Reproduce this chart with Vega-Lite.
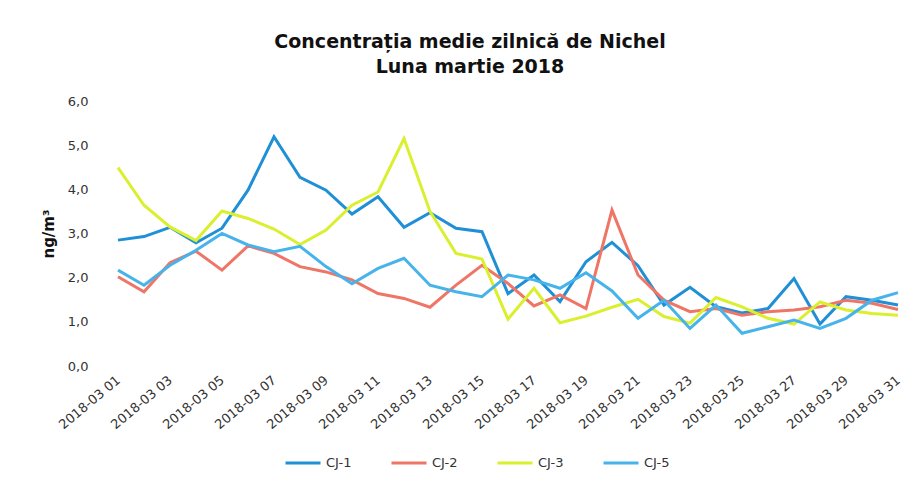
{
  "$schema": "https://vega.github.io/schema/vega-lite/v6.json",
  "width": 806,
  "height": 265,
  "autosize": {"type": "none"},
  "padding": {"left": 105, "top": 101, "right": 7, "bottom": 118},
  "background": "white",
  "config": {"view": {"stroke": null}, "font": "DejaVu Sans"},
  "title": {
    "text": ["Concentrația medie zilnică de Nichel", "Luna martie 2018"],
    "fontSize": 19,
    "fontWeight": "bold",
    "font": "DejaVu Sans",
    "color": "#111111",
    "anchor": "middle",
    "frame": "group",
    "dx": -38,
    "offset": 18,
    "lineHeight": 25
  },
  "data": {
    "values": [
      {"date": "2018-03-01", "CJ-1": 2.85, "CJ-2": 2.02, "CJ-3": 4.49, "CJ-5": 2.17},
      {"date": "2018-03-02", "CJ-1": 2.93, "CJ-2": 1.68, "CJ-3": 3.64, "CJ-5": 1.83},
      {"date": "2018-03-03", "CJ-1": 3.14, "CJ-2": 2.34, "CJ-3": 3.15, "CJ-5": 2.28},
      {"date": "2018-03-04", "CJ-1": 2.79, "CJ-2": 2.6, "CJ-3": 2.84, "CJ-5": 2.62},
      {"date": "2018-03-05", "CJ-1": 3.12, "CJ-2": 2.17, "CJ-3": 3.51, "CJ-5": 3.0},
      {"date": "2018-03-06", "CJ-1": 3.98, "CJ-2": 2.72, "CJ-3": 3.34, "CJ-5": 2.74},
      {"date": "2018-03-07", "CJ-1": 5.19, "CJ-2": 2.55, "CJ-3": 3.1, "CJ-5": 2.59},
      {"date": "2018-03-08", "CJ-1": 4.27, "CJ-2": 2.25, "CJ-3": 2.75, "CJ-5": 2.71},
      {"date": "2018-03-09", "CJ-1": 3.98, "CJ-2": 2.13, "CJ-3": 3.08, "CJ-5": 2.25},
      {"date": "2018-03-10", "CJ-1": 3.44, "CJ-2": 1.95, "CJ-3": 3.64, "CJ-5": 1.86},
      {"date": "2018-03-11", "CJ-1": 3.83, "CJ-2": 1.64, "CJ-3": 3.94, "CJ-5": 2.21},
      {"date": "2018-03-12", "CJ-1": 3.14, "CJ-2": 1.53, "CJ-3": 5.15, "CJ-5": 2.44},
      {"date": "2018-03-13", "CJ-1": 3.47, "CJ-2": 1.33, "CJ-3": 3.5, "CJ-5": 1.83},
      {"date": "2018-03-14", "CJ-1": 3.12, "CJ-2": 1.83, "CJ-3": 2.55, "CJ-5": 1.68},
      {"date": "2018-03-15", "CJ-1": 3.04, "CJ-2": 2.28, "CJ-3": 2.42, "CJ-5": 1.57},
      {"date": "2018-03-16", "CJ-1": 1.64, "CJ-2": 1.87, "CJ-3": 1.06, "CJ-5": 2.06},
      {"date": "2018-03-17", "CJ-1": 2.06, "CJ-2": 1.36, "CJ-3": 1.76, "CJ-5": 1.95},
      {"date": "2018-03-18", "CJ-1": 1.46, "CJ-2": 1.61, "CJ-3": 0.98, "CJ-5": 1.76},
      {"date": "2018-03-19", "CJ-1": 2.36, "CJ-2": 1.3, "CJ-3": 1.13, "CJ-5": 2.11},
      {"date": "2018-03-20", "CJ-1": 2.8, "CJ-2": 3.53, "CJ-3": 1.33, "CJ-5": 1.7},
      {"date": "2018-03-21", "CJ-1": 2.27, "CJ-2": 2.06, "CJ-3": 1.51, "CJ-5": 1.08},
      {"date": "2018-03-22", "CJ-1": 1.38, "CJ-2": 1.49, "CJ-3": 1.12, "CJ-5": 1.49},
      {"date": "2018-03-23", "CJ-1": 1.78, "CJ-2": 1.23, "CJ-3": 0.97, "CJ-5": 0.85},
      {"date": "2018-03-24", "CJ-1": 1.34, "CJ-2": 1.3, "CJ-3": 1.55, "CJ-5": 1.38},
      {"date": "2018-03-25", "CJ-1": 1.2, "CJ-2": 1.15, "CJ-3": 1.34, "CJ-5": 0.74},
      {"date": "2018-03-26", "CJ-1": 1.3, "CJ-2": 1.23, "CJ-3": 1.08, "CJ-5": 0.89},
      {"date": "2018-03-27", "CJ-1": 1.98, "CJ-2": 1.27, "CJ-3": 0.95, "CJ-5": 1.04},
      {"date": "2018-03-28", "CJ-1": 0.95, "CJ-2": 1.34, "CJ-3": 1.45, "CJ-5": 0.85},
      {"date": "2018-03-29", "CJ-1": 1.57, "CJ-2": 1.49, "CJ-3": 1.27, "CJ-5": 1.08},
      {"date": "2018-03-30", "CJ-1": 1.49, "CJ-2": 1.42, "CJ-3": 1.19, "CJ-5": 1.49},
      {"date": "2018-03-31", "CJ-1": 1.38, "CJ-2": 1.28, "CJ-3": 1.15, "CJ-5": 1.66}
    ]
  },
  "transform": [{"fold": ["CJ-1", "CJ-2", "CJ-3", "CJ-5"], "as": ["station", "value"]}],
  "mark": {"type": "line", "strokeWidth": 3},
  "encoding": {
    "x": {
      "field": "date",
      "type": "ordinal",
      "scale": {"type": "point", "padding": 0.5},
      "axis": {
        "title": null,
        "values": ["2018-03-01", "2018-03-03", "2018-03-05", "2018-03-07", "2018-03-09", "2018-03-11", "2018-03-13", "2018-03-15", "2018-03-17", "2018-03-19", "2018-03-21", "2018-03-23", "2018-03-25", "2018-03-27", "2018-03-29", "2018-03-31"],
        "labelExpr": "slice(datum.value, 0, 7) + ' ' + slice(datum.value, 8)",
        "labelAngle": -40,
        "labelAlign": "right",
        "labelBaseline": "middle",
        "labelFont": "DejaVu Sans",
        "labelFontSize": 13,
        "labelColor": "#333333",
        "labelPadding": 12,
        "domain": false,
        "ticks": false,
        "grid": false
      }
    },
    "y": {
      "field": "value",
      "type": "quantitative",
      "scale": {"domain": [0, 6], "nice": false},
      "axis": {
        "values": [0, 1, 2, 3, 4, 5, 6],
        "labelExpr": "replace(format(datum.value, '.1f'), '.', ',')",
        "labelFont": "DejaVu Sans",
        "labelFontSize": 13,
        "labelColor": "#333333",
        "labelPadding": 17,
        "domain": false,
        "ticks": false,
        "grid": false,
        "title": "ng/m³",
        "titleFont": "DejaVu Sans",
        "titleFontSize": 15,
        "titleFontWeight": "bold",
        "titleColor": "#111111",
        "titlePadding": 11
      }
    },
    "color": {
      "field": "station",
      "type": "nominal",
      "scale": {
        "domain": ["CJ-1", "CJ-2", "CJ-3", "CJ-5"],
        "range": ["#1f8fd6", "#ef7566", "#daef2e", "#46b4ea"]
      },
      "legend": {
        "title": null,
        "orient": "none",
        "direction": "horizontal",
        "legendX": 179,
        "legendY": 343,
        "symbolType": "stroke",
        "symbolSize": 1225,
        "symbolStrokeWidth": 3,
        "labelFont": "DejaVu Sans",
        "labelFontSize": 13,
        "labelColor": "#333333",
        "labelOffset": 4,
        "columnPadding": 33
      }
    }
  }
}
